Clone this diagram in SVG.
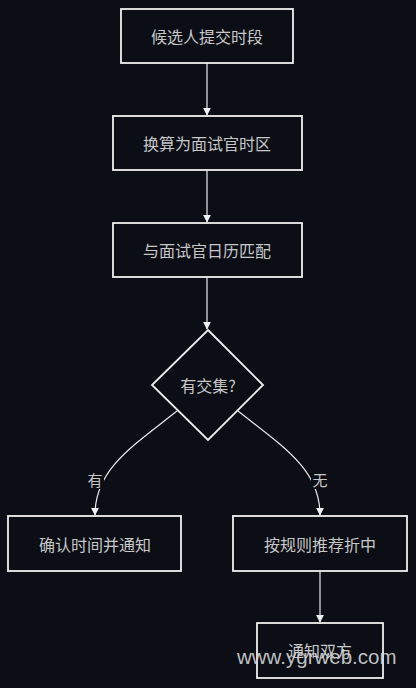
<svg xmlns="http://www.w3.org/2000/svg" width="416" height="688" viewBox="0 0 416 688">
<defs>
<style>
.node rect, .node polygon { fill: #0b0e15; stroke: #f0f0f0; stroke-width: 1.8; }
.lbl { font-family: "Noto Sans CJK SC", "Liberation Sans", sans-serif; font-size: 16px; fill: #c8c8c8; text-anchor: middle; dominant-baseline: central; }
.edge { fill: none; stroke: #ececec; stroke-width: 1.2; }
.elbl { font-family: "Noto Sans CJK SC", "Liberation Sans", sans-serif; font-size: 15px; fill: #c8c8c8; text-anchor: middle; dominant-baseline: central; }
</style>
<marker id="arr" viewBox="0 0 10 10" refX="9" refY="5" markerWidth="8" markerHeight="8" orient="auto" markerUnits="userSpaceOnUse">
<path d="M0,0 L10,5 L0,10 z" fill="#f0f0f0"/>
</marker>
</defs>
<rect width="416" height="688" fill="#0b0e15"/>
<g id="connectors">
<path class="edge" d="M207,63 L207,115" marker-end="url(#arr)"/>
<path class="edge" d="M207,170 L207,222" marker-end="url(#arr)"/>
<path class="edge" d="M207,277 L207,329" marker-end="url(#arr)"/>
<path class="edge" d="M177,411 C130,448 95,470 95,515" marker-end="url(#arr)"/>
<path class="edge" d="M238,411 C285,448 320,470 320,515" marker-end="url(#arr)"/>
<path class="edge" d="M320,571 L320,622" marker-end="url(#arr)"/>
<rect x="86" y="469" width="18" height="20" fill="#0b0e15"/>
<text class="elbl" x="95" y="479">有</text>
<rect x="311" y="469" width="18" height="20" fill="#0b0e15"/>
<text class="elbl" x="320" y="479">无</text>
</g>
<g id="n1" class="node"><rect x="121" y="9" width="172" height="54"/><text class="lbl" x="207" y="36">候选人提交时段</text></g>
<g id="n2" class="node"><rect x="113" y="116" width="189" height="54"/><text class="lbl" x="207" y="143">换算为面试官时区</text></g>
<g id="n3" class="node"><rect x="113" y="223" width="189" height="54"/><text class="lbl" x="207" y="250">与面试官日历匹配</text></g>
<g id="n4" class="node"><polygon points="208,330 263,385 208,440 152,385"/><text class="lbl" x="208" y="385">有交集?</text></g>
<g id="n5" class="node"><rect x="8" y="516" width="173" height="55"/><text class="lbl" x="95" y="544">确认时间并通知</text></g>
<g id="n6" class="node"><rect x="233" y="516" width="174" height="55"/><text class="lbl" x="320" y="544">按规则推荐折中</text></g>
<g id="n7" class="node"><rect x="257" y="623" width="126" height="55"/><text class="lbl" x="320" y="650">通知双方</text></g>
<text x="237" y="664" font-family="Liberation Sans, Arial, sans-serif" font-size="20.5" fill="#d8d8d8" fill-opacity="0.9">www.ygrweb.com</text>
</svg>
